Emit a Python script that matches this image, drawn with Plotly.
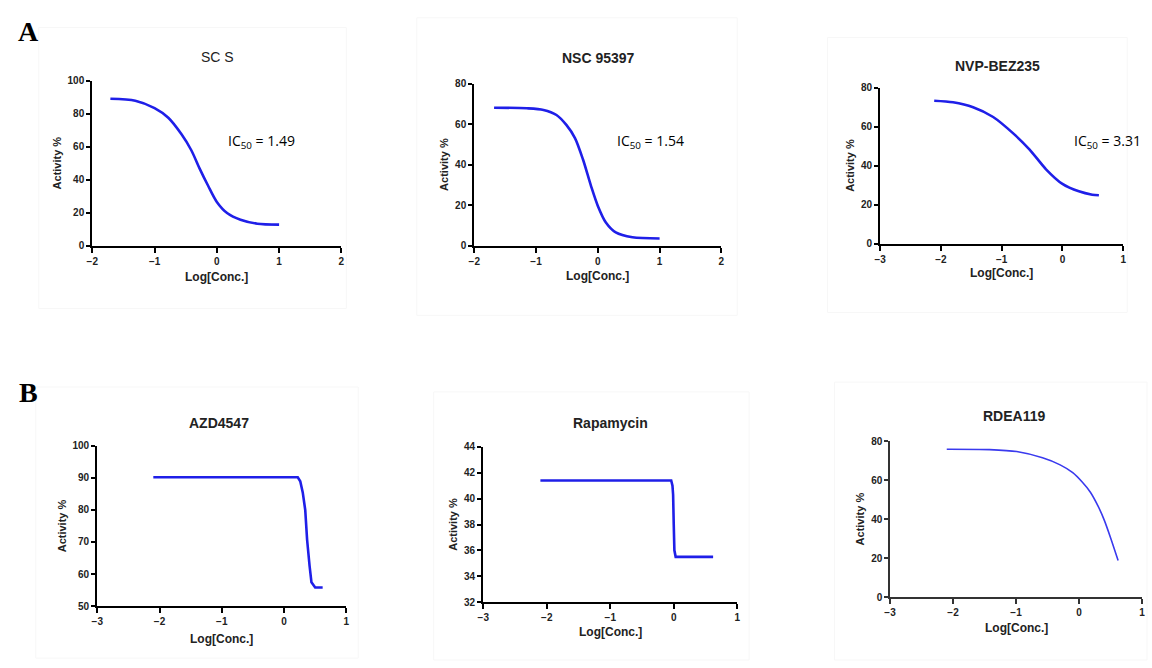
import plotly.graph_objects as go

W, H = 1152, 668

# ---------------- data ----------------
names = ["SC S", "NSC 95397", "NVP-BEZ235", "AZD4547", "Rapamycin", "RDEA119"]

scs_x = [-1.71, -1.31, -1.0, -0.78, -0.57, -0.41, -0.28, -0.14, 0.0, 0.17, 0.38, 0.65, 1.0]
scs_y = [89.0, 87.8, 83.3, 77.5, 67.6, 57.8, 47.0, 36.3, 26.5, 19.6, 15.7, 13.3, 12.7]

nsc_x = [-1.68, -1.15, -0.88, -0.67, -0.51, -0.37, -0.24, -0.11, 0.0, 0.13, 0.29, 0.56, 1.0]
nsc_y = [68.1, 67.8, 67.0, 64.5, 59.6, 53.1, 42.5, 29.4, 19.6, 11.4, 6.5, 4.1, 3.5]

nvp_x = [-2.11, -1.8, -1.47, -1.14, -0.81, -0.54, -0.27, 0.0, 0.27, 0.49, 0.6]
nvp_y = [73.2, 72.4, 69.9, 64.9, 56.5, 48.2, 38.1, 30.6, 26.8, 25.1, 24.8]

azd_x = [-2.1, 0.22, 0.26, 0.3, 0.34, 0.37, 0.41, 0.44, 0.5, 0.62]
azd_y = [90.2, 90.2, 89.0, 85.5, 80.0, 70.7, 62.5, 57.4, 55.8, 55.8]

rap_x = [-2.1, -0.04, -0.02, -0.01, 0.0, 0.01, 0.03, 0.62]
rap_y = [41.4, 41.4, 41.0, 40.3, 38.0, 36.0, 35.5, 35.5]

rdea_x = [-2.1, -1.42, -0.99, -0.58, -0.3, -0.1, 0.05, 0.18, 0.3, 0.4, 0.5, 0.62]
rdea_y = [75.8, 75.6, 74.6, 71.4, 67.8, 63.8, 59.0, 53.8, 46.8, 39.5, 30.5, 18.8]

ic50_labels = ["IC<sub>50</sub> = 1.49", "IC<sub>50</sub> = 1.54", "IC<sub>50</sub> = 3.31"]

x_ranges = [[-2, 2], [-2, 2], [-3, 1], [-3, 1], [-3, 1], [-3, 1]]
y_ranges = [[0, 100], [0, 80], [0, 80], [50, 100], [32, 44], [0, 80]]
y_dtick = [20, 20, 20, 10, 2, 20]

# ---------------- layout geometry (pixels) ----------------
boxes = [
    (87, 338, 76, 244),
    (472, 721, 79, 244),
    (881, 1126, 83, 242),
    (92, 343, 448, 611),
    (481, 737, 449, 607),
    (891, 1145, 443, 602),
]
frames = [
    (33, 343, 22, 308),
    (414, 737, 12, 315),
    (828, 1130, 32, 312),
    (30, 355, 388, 664),
    (431, 749, 393, 666),
    (835, 1150, 383, 666),
]
title_pos = [(213, 52), (597, 53), (999, 61), (215, 425), (609, 425), (1016, 418)]
title_bold = [False, True, True, True, True, True]
xtitle_y = [276, 275, 272, 645, 637, 633]
ic50_pos = [(258, 138), (650, 138), (1110, 138)]

series = [(scs_x, scs_y), (nsc_x, nsc_y), (nvp_x, nvp_y),
          (azd_x, azd_y), (rap_x, rap_y), (rdea_x, rdea_y)]
shapes_line = ["spline", "spline", "spline", "linear", "linear", "spline"]

fig = go.Figure()
layout = dict(
    width=W, height=H, margin=dict(l=0, r=0, t=0, b=0),
    paper_bgcolor="white", plot_bgcolor="white", showlegend=False,
)
annotations = []
shapes = []


def px(x):
    return x / W


def py(y):
    return 1 - y / H


for i in range(6):
    k = "" if i == 0 else str(i + 1)
    l, r, t, b = boxes[i]
    thin = (i == 5)
    axcol = "#333333" if thin else "black"
    lw = 1.5 if thin else 2.2
    tickfont = dict(family="Liberation Sans, Arial", size=10, color="#222222", weight="bold")
    layout["xaxis" + k] = dict(
        domain=[px(l), px(r)], anchor="y" + k, range=x_ranges[i],
        dtick=1, tick0=0, showgrid=False, zeroline=False,
        showline=True, linecolor=axcol, linewidth=lw,
        ticks="outside", ticklen=5, tickwidth=lw, tickcolor=axcol,
        tickfont=tickfont,
    )
    layout["yaxis" + k] = dict(
        domain=[py(b), py(t)], anchor="x" + k, range=y_ranges[i],
        dtick=y_dtick[i], tick0=0, showgrid=False, zeroline=False,
        showline=True, linecolor=axcol, linewidth=lw,
        ticks="outside", ticklen=4, tickwidth=lw, tickcolor=axcol,
        tickfont=tickfont,
        title=dict(text="Activity %", standoff=4,
                   font=dict(family="Liberation Sans, Arial", size=11,
                             color="#222222", weight="bold")),
    )
    sx, sy = series[i]
    line = dict(color="#3a3aee" if thin else "#1f1fe8",
                width=1.6 if thin else 2.6, shape=shapes_line[i])
    if shapes_line[i] == "spline":
        line["smoothing"] = 0.8
    fig.add_trace(go.Scatter(
        x=sx, y=sy, mode="lines", xaxis="x" + k, yaxis="y" + k,
        line=line, hoverinfo="x+y",
    ))
    tx, ty = title_pos[i]
    annotations.append(dict(
        text=names[i], x=px(tx), y=py(ty), xref="paper", yref="paper",
        showarrow=False, xanchor="center", yanchor="middle",
        font=dict(family="Liberation Sans, Arial", size=14, color="#222222",
                  weight="bold" if title_bold[i] else "normal"),
    ))
    annotations.append(dict(
        text="Log[Conc.]", x=px((l + r) / 2), y=py(xtitle_y[i]), xref="paper", yref="paper",
        showarrow=False, xanchor="center", yanchor="middle",
        font=dict(family="Liberation Sans, Arial", size=12, color="#222222", weight="bold"),
    ))
    fl, fr, ft, fb = frames[i]
    shapes.append(dict(type="rect", xref="paper", yref="paper",
                       x0=px(fl), x1=px(fr), y0=py(fb), y1=py(ft),
                       line=dict(color="#f7f7f7", width=1), layer="below"))

for j in range(3):
    x, y = ic50_pos[j]
    annotations.append(dict(
        text=ic50_labels[j], x=px(x), y=py(y), xref="paper", yref="paper",
        showarrow=False, xanchor="center", yanchor="middle",
        font=dict(family="Open Sans, Liberation Sans", size=14, color="black"),
    ))

for lab, (x, y) in zip(["A", "B"], [(23, 26), (23, 394)]):
    annotations.append(dict(
        text=lab, x=px(x), y=py(y), xref="paper", yref="paper",
        showarrow=False, xanchor="center", yanchor="middle",
        font=dict(family="Liberation Serif, Times New Roman", size=28, color="black", weight="bold"),
    ))

layout["annotations"] = annotations
layout["shapes"] = shapes
fig.update_layout(**layout)
fig.write_html("out.html")
